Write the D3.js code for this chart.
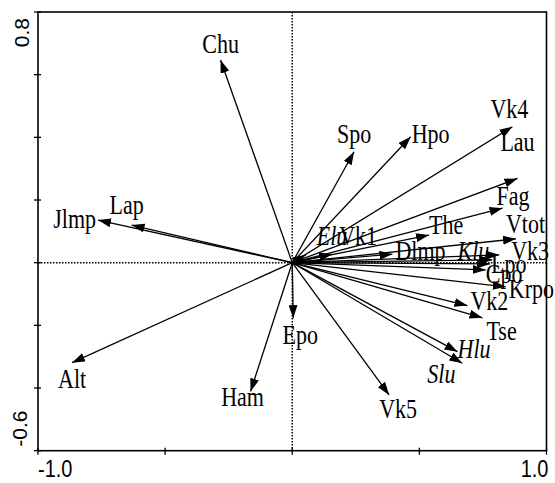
<!DOCTYPE html>
<html lang="en">
<head>
<meta charset="utf-8">
<title>Biplot</title>
<script src="https://d3js.org/d3.v7.min.js"></script>
<style>
  body { margin: 0; background: #fff; }
  .lbl { font-family: "Liberation Serif", "Times New Roman", serif; font-size: 22px; fill: #000; }
  .num { font-family: "Liberation Sans", Arial, sans-serif; font-size: 20px; fill: #000; }
</style>
</head>
<body>
<script>
// variable names and their arrow tips (axis 1, axis 2)
var names = ["Chu", "Spo", "Hpo", "Vk4", "Lau", "Fag", "The", "Vtot", "Vk3", "Dlmp",
             "Elu", "Vk1", "Klu", "Lpo", "Cpo", "Krpo", "Vk2", "Tse", "Hlu", "Slu",
             "Vk5", "Ham", "Epo", "Alt", "Jlmp", "Lap"];
var axis1 = [-0.282, 0.243, 0.466, 0.866, 0.886, 0.827, 0.538, 0.880, 0.814, 0.394,
             0.053, 0.157, 0.787, 0.778, 0.761, 0.840, 0.689, 0.748, 0.650, 0.669,
             0.381, -0.164, 0.004, -0.866, -0.764, -0.632];
var axis2 = [0.647, 0.354, 0.402, 0.434, 0.269, 0.174, 0.088, 0.076, 0.025, 0.027,
             0.025, 0.027, 0.009, -0.004, -0.023, -0.077, -0.137, -0.176, -0.284, -0.321,
             -0.422, -0.411, -0.177, -0.319, 0.136, 0.120];
var italicNames = ["Elu", "Klu", "Hlu", "Slu"];

var xTicks = [-1.0, -0.5, 0, 0.5, 1.0];
var yTicks = [-0.6, -0.4, -0.2, 0, 0.2, 0.4, 0.6, 0.8];

// label placement relative to arrow tip: [dx, dy, anchor]
var labelPos = {
  Chu: [0, -7, "middle"], Spo: [0, -9, "middle"], Hpo: [1, 6, "start"],
  Vk4: [-3, -9, "middle"], Lau: [0, -27, "middle"], Fag: [-6, -3, "start"],
  The: [0, -1, "start"], Vtot: [-10, -6, "start"], Vk3: [12, 5, "start"],
  Dlmp: [3, 6, "start"], Elu: [11, -10, "start"], Vk1: [7, -9, "start"],
  Klu: [-3, 0, "end"], Lpo: [1, 9, "start"], Cpo: [0, 13, "start"],
  Krpo: [3, 11, "start"], Vk2: [3, 4, "start"], Tse: [4, 22, "start"],
  Hlu: [0, 6, "start"], Slu: [-35, 20, "start"], Vk5: [9, 23, "middle"],
  Ham: [-8, 15, "middle"], Epo: [7, 26, "middle"], Alt: [0, 25, "middle"],
  Jlmp: [-2, 8, "end"], Lap: [-5, -11, "middle"]
};

var W = 555, H = 483;
var x = d3.scaleLinear().domain([-1, 1]).range([38, 546.5]);
var y = d3.scaleLinear().domain([-0.6, 0.8]).range([450.7, 12]);

var svg = d3.select("body").append("svg")
    .attr("width", W).attr("height", H);

svg.append("defs").append("marker")
    .attr("id", "head")
    .attr("viewBox", "0 0 13 9")
    .attr("refX", 13).attr("refY", 4.5)
    .attr("markerWidth", 13).attr("markerHeight", 9)
    .attr("markerUnits", "userSpaceOnUse")
    .attr("orient", "auto")
  .append("path")
    .attr("d", "M0,0 L13,4.5 L0,9 Z")
    .attr("fill", "#000");

// dotted zero lines
svg.append("line")
    .attr("x1", x(0)).attr("x2", x(0)).attr("y1", y(0.8)).attr("y2", y(-0.6))
    .attr("stroke", "#000").attr("stroke-width", 1.5).attr("stroke-dasharray", "1.5,1.5");
svg.append("line")
    .attr("x1", x(-1)).attr("x2", x(1)).attr("y1", y(0)).attr("y2", y(0))
    .attr("stroke", "#000").attr("stroke-width", 1.5).attr("stroke-dasharray", "1.5,1.5");

// arrows
var data = names.map(function(n, i) { return {name: n, a: axis1[i], b: axis2[i]}; });

svg.selectAll(".arrow")
    .data(data)
    .enter().append("line")
    .attr("class", "arrow")
    .attr("x1", x(0)).attr("y1", y(0))
    .attr("x2", function(d) { return x(d.a); })
    .attr("y2", function(d) { return y(d.b); })
    .attr("stroke", "#000")
    .attr("stroke-width", 1.3)
    .attr("marker-end", "url(#head)");

svg.selectAll(".lbl")
    .data(data)
    .enter().append("text")
    .attr("class", "lbl")
    .attr("transform", function(d) {
        var p = labelPos[d.name];
        return "translate(" + (x(d.a) + p[0]) + "," + (y(d.b) + p[1]) + ") scale(1,1.25)";
    })
    .attr("text-anchor", function(d) { return labelPos[d.name][2]; })
    .style("font-style", function(d) { return italicNames.indexOf(d.name) >= 0 ? "italic" : "normal"; })
    .text(function(d) { return d.name; });

// frame
svg.append("rect")
    .attr("x", x(-1)).attr("y", y(0.8))
    .attr("width", x(1) - x(-1)).attr("height", y(-0.6) - y(0.8))
    .attr("fill", "none").attr("stroke", "#000").attr("stroke-width", 1.6);

// ticks
svg.selectAll(".xt")
    .data(xTicks)
    .enter().append("line")
    .attr("x1", function(d) { return x(d); }).attr("x2", function(d) { return x(d); })
    .attr("y1", y(-0.6) - 3).attr("y2", y(-0.6) + 4)
    .attr("stroke", "#000").attr("stroke-width", 1.3);
svg.selectAll(".yt")
    .data(yTicks)
    .enter().append("line")
    .attr("y1", function(d) { return y(d); }).attr("y2", function(d) { return y(d); })
    .attr("x1", x(-1) - 4).attr("x2", x(-1) + 3)
    .attr("stroke", "#000").attr("stroke-width", 1.3);

// tick labels (only the ends are labelled)
svg.append("text").attr("class", "num")
    .attr("transform", "translate(" + x(-1) + ",477) scale(1,1.2)")
    .attr("text-anchor", "start").text("-1.0");
svg.append("text").attr("class", "num")
    .attr("transform", "translate(" + (x(1) + 2) + ",477) scale(1,1.2)")
    .attr("text-anchor", "end").text("1.0");
svg.append("text").attr("class", "num")
    .attr("transform", "translate(28.5," + (y(0.8) + 6) + ") rotate(-90)")
    .attr("text-anchor", "end").style("font-size", "21px").text("0.8");
svg.append("text").attr("class", "num")
    .attr("transform", "translate(27," + (y(-0.6) - 4) + ") rotate(-90)")
    .attr("text-anchor", "start").style("font-size", "21px").text("-0.6");
</script>
</body>
</html>
